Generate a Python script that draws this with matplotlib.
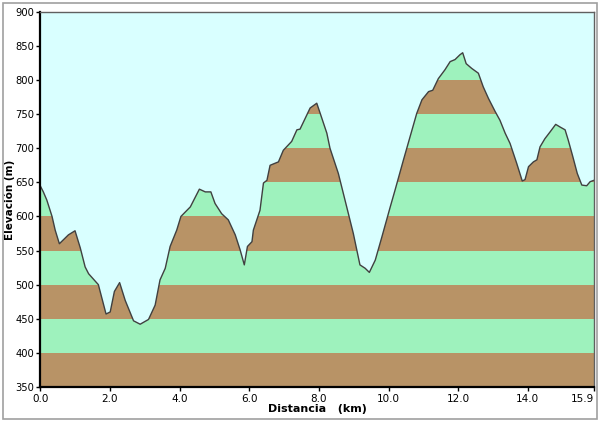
import numpy as np
import matplotlib
matplotlib.use("Agg")
import matplotlib.pyplot as plt
from matplotlib.patches import Rectangle

# perfil de elevación (km, m)
dist = [0.0, 0.09, 0.19, 0.34, 0.43, 0.55, 0.81, 1.0, 1.15, 1.29, 1.39, 1.67, 1.89, 2.01,
        2.13, 2.28, 2.44, 2.68, 2.87, 3.11, 3.3, 3.44, 3.59, 3.73, 3.92, 4.04, 4.31, 4.57,
        4.74, 4.9, 5.02, 5.21, 5.4, 5.6, 5.74, 5.86, 5.95, 6.08, 6.12, 6.31, 6.41, 6.51,
        6.6, 6.84, 6.98, 7.22, 7.37, 7.46, 7.61, 7.75, 7.94, 8.04, 8.23, 8.32, 8.56, 8.8,
        8.99, 9.18, 9.33, 9.45, 9.62, 9.81, 10.05, 10.19, 10.43, 10.62, 10.81, 10.96, 11.15,
        11.27, 11.43, 11.62, 11.77, 11.91, 12.05, 12.13, 12.23, 12.39, 12.58, 12.72, 12.87,
        13.06, 13.2, 13.35, 13.49, 13.68, 13.84, 13.92, 14.02, 14.16, 14.26, 14.35, 14.49,
        14.64, 14.8, 14.93, 15.07, 15.16, 15.29, 15.42, 15.55, 15.69, 15.79, 15.9]
elev = [645, 636, 624, 600, 580, 560, 573, 579, 554, 526, 516, 500, 457, 460,
        490, 503, 477, 447, 442, 449, 470, 507, 524, 556, 580, 600, 614, 640,
        636, 636, 619, 604, 595, 573, 551, 529, 556, 563, 580, 609, 649, 653,
        675, 680, 697, 710, 727, 728, 744, 759, 766, 751, 722, 700, 663, 614,
        575, 529, 524, 518, 536, 570, 614, 639, 683, 717, 751, 771, 783,
        785, 802, 815, 827, 830, 837, 840, 824, 817, 810, 790, 773,
        754, 741, 722, 707, 678, 652, 654, 673, 680, 683, 702, 714,
        724, 735, 731, 727, 712, 688, 663, 646, 645, 651, 653]

xticks = [0, 2, 4, 6, 8, 10, 12, 14, 15.9]
xlabels = ['0.0', '2.0', '4.0', '6.0', '8.0', '10.0', '12.0', '14.0', '15.9']
yticks = list(range(350, 901, 50))

marron = '#b89366'
verde = '#9ef2bd'
fondo = '#d9ffff'

fig = plt.figure(figsize=(6, 4.22), dpi=100)
fig.patches.append(Rectangle((0.005, 0.008), 0.99, 0.985, transform=fig.transFigure,
                             fill=False, edgecolor='#a0a0a0', linewidth=1.2))
ax = fig.add_axes([0.067, 0.083, 0.923, 0.889])
ax.set_facecolor(fondo)

# silueta del perfil (invisible) que recorta las bandas
silueta = ax.fill_between(dist, 350, elev, color='none', linewidth=0)
clip = silueta.get_paths()[0]

# bandas de 50 m
for i, lo in enumerate(range(350, 850, 50)):
    col = marron if i % 2 == 0 else verde
    banda = ax.axhspan(lo, lo + 50, color=col, linewidth=0)
    banda.set_clip_path(clip, ax.transData)

ax.plot(dist, elev, color='#404040', linewidth=1.0)

ax.set_xlim(0, 15.9)
ax.set_ylim(350, 900)
ax.set_xticks(xticks)
ax.set_xticklabels(xlabels)
ax.get_xticklabels()[-1].set_horizontalalignment('right')
ax.set_yticks(yticks)
ax.tick_params(labelsize=7.5, length=3, width=1, direction='out', pad=2)
ax.tick_params(axis='y', labelsize=7.2, pad=1.5)
for s in ['left', 'bottom']:
    ax.spines[s].set_linewidth(1.6)
    ax.spines[s].set_color('black')
for s in ['top', 'right']:
    ax.spines[s].set_linewidth(1)
    ax.spines[s].set_color('#606060')

ax.set_xlabel('Distancia   (km)', fontsize=8, fontweight='bold', labelpad=0)
ax.set_ylabel('Elevación (m)', fontsize=7.5, fontweight='bold')
ax.yaxis.set_label_coords(-0.046, 0.5)

fig.savefig('out.png', dpi=100)
